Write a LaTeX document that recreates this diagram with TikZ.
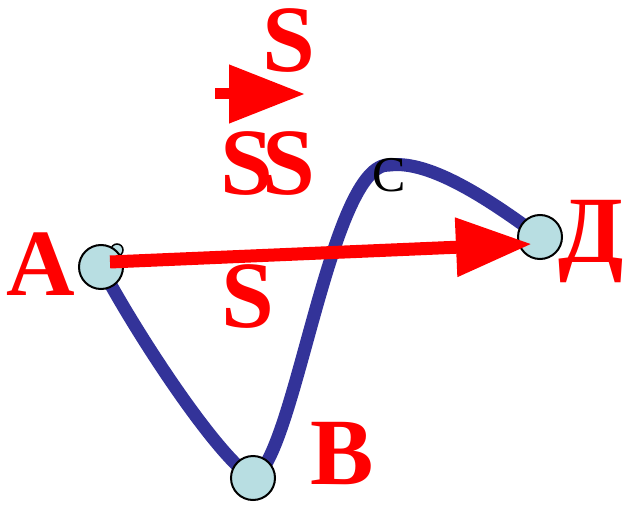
\documentclass[tikz,border=0pt]{standalone}
\usepackage{fontspec}
\setmainfont{Liberation Serif}
\usetikzlibrary{arrows.meta}
\definecolor{redtxt}{RGB}{255,0,0}
\definecolor{curveblue}{RGB}{51,51,153}
\definecolor{dotfill}{RGB}{184,222,226}
\tikzset{
  bigletter/.style={text=redtxt, inner sep=0pt, anchor=base, font=\fontsize{95}{95}\selectfont\bfseries},
  smallletter/.style={text=black, inner sep=0pt, anchor=base, font=\fontsize{50}{50}\selectfont},
  dot/.style={circle, draw=black, line width=2pt, fill=dotfill, minimum size=44pt, inner sep=0pt},
  smalldot/.style={circle, draw=black, line width=1.5pt, fill=dotfill, minimum size=12pt, inner sep=0pt},
  path/.style={draw=curveblue, line width=13pt},
  vec/.style={draw=redtxt, line width=13pt, -{Triangle[length=76pt,width=56pt]}},
}
\begin{document}
\begin{tikzpicture}[x=1pt,y=-1pt]
\useasboundingbox (0,0) rectangle (623,505);
% positions
\coordinate (pA) at (101,267);
\coordinate (pB) at (253,478);
\coordinate (pC) at (390,165);
\coordinate (pD) at (540,237);
% blue curve
\draw[path] (pA) .. controls (140,340) and (220,460) .. (pB)
  .. controls (295,460) and (330,160) .. (pC)
  .. controls (430,160) and (490,200) .. (pD);
% points
\node[smalldot] (e) at (117,250) {};
\node[dot] (A) at (pA) {};
\node[dot] (B) at (pB) {};
\node[dot] (D) at (pD) {};
% red vector
\coordinate (vs) at (110,262);
\coordinate (ve) at (532,244);
\draw[vec] (vs) -- (ve);
% small arrow
\coordinate (ss) at (215,94);
\coordinate (se) at (305,94);
\draw[vec, line width=11pt] (ss) -- (se);
% labels
\node[bigletter] (lA) at (41,295) {А};
\node[bigletter] (lB) at (342,484) {В};
\node[bigletter] (lD) at (591,262) {Д};
\node[smallletter] (lC) at (389,191) {С};
\node[bigletter] (s1) at (289,72) {S};
\node[bigletter] (s2) at (247,194) {S};
\node[bigletter] (s3) at (289,194) {S};
\node[bigletter] (s4) at (248,327) {S};
\end{tikzpicture}
\end{document}
